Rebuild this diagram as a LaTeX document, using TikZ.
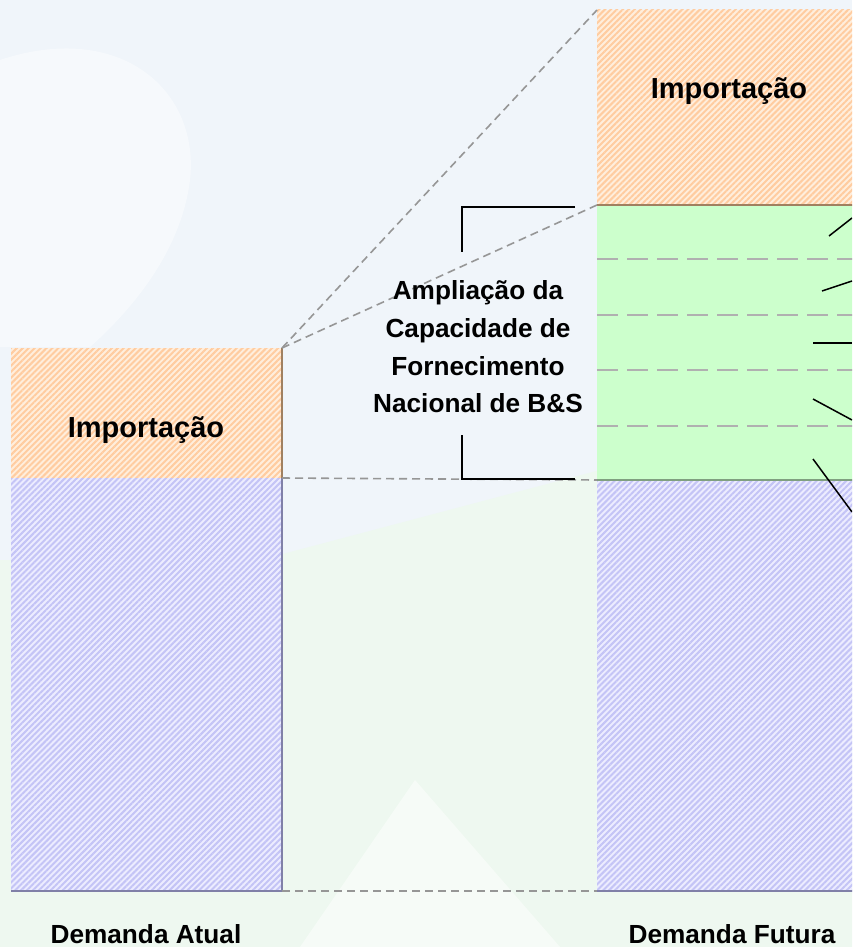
\documentclass[tikz,border=0pt]{standalone}
\usepackage{fontspec}
\setmainfont{Liberation Sans}
\usetikzlibrary{patterns.meta,positioning}

\definecolor{bgblue}{RGB}{240,245,250}
\definecolor{bggreen}{RGB}{238,248,240}
\definecolor{impfill}{RGB}{255,238,220}
\definecolor{impline}{RGB}{255,204,160}
\definecolor{impedge}{RGB}{160,128,96}
\definecolor{demfill}{RGB}{236,236,255}
\definecolor{demline}{RGB}{196,196,246}
\definecolor{demedge}{RGB}{128,128,168}
\definecolor{ampfill}{RGB}{204,255,204}
\definecolor{ampedge}{RGB}{128,160,128}
\definecolor{connline}{RGB}{150,150,150}
\definecolor{divgray}{RGB}{176,176,176}

\begin{document}
\begin{tikzpicture}[
    x=0.5pt, y=-0.5pt,
    box/.style={
        inner sep=0pt,
        outer sep=0pt,
        anchor=north west,
        minimum width=135.5pt
    },
    impbox/.style={
        box,
        preaction={fill=impfill},
        pattern={Lines[angle=45,distance=2.1pt,line width=1pt]},
        pattern color=impline
    },
    dembox/.style={
        box,
        preaction={fill=demfill},
        pattern={Lines[angle=45,distance=2.1pt,line width=1pt]},
        pattern color=demline
    },
    ampbox/.style={
        box,
        fill=ampfill
    },
    boxtext/.style={
        anchor=base,
        font=\bfseries\fontsize{14.5}{17}\selectfont
    },
    captext/.style={
        anchor=base,
        font=\bfseries\fontsize{13.1}{16}\selectfont
    },
    conn/.style={
        draw=connline,
        line width=0.8pt,
        dash pattern=on 4pt off 2.5pt
    },
    divline/.style={
        draw=divgray,
        line width=1.2pt,
        dash pattern=on 10.5pt off 4.5pt
    },
    leader/.style={draw=black, line width=0.75pt},
    bracket/.style={draw=black, line width=1pt}
]

\clip (0,0) rectangle (852,947);
\fill[bgblue] (0,0) rectangle (852,947);
% faint watermark shapes
\fill[bggreen] (0,560) -- (260,560) -- (600,470) -- (852,470) -- (852,947) -- (0,947) -- cycle;
\fill[white, opacity=0.45] (0,60) .. controls (120,20) and (200,90) .. (190,180)
    .. controls (180,260) and (120,320) .. (90,347) -- (0,347) -- cycle;
\fill[white, opacity=0.5] (300,947) -- (415,780) -- (560,947) -- cycle;

% current demand
\node[impbox, minimum height=65pt] (impA) at (11,348) {};
\node[dembox, minimum height=206.5pt] (demA) at (11,478) {};
\draw[impedge, line width=1pt] (impA.north east) -- (impA.south east);
\draw[demedge, line width=1.2pt] (demA.north east) -- (demA.south east) -- (demA.south west);

% future demand
\node[impbox, minimum height=97.5pt] (impF) at (597,10) {};
\node[ampbox, minimum height=137.5pt] (ampF) at (597,205) {};
\node[dembox, minimum height=205.5pt] (demF) at (597,480) {};
\draw[impedge, line width=1.2pt] (impF.south west) -- (impF.south east);
\draw[ampedge, line width=1.2pt] (ampF.south west) -- (ampF.south east);
\draw[demedge, line width=1.2pt] (demF.south west) -- (demF.south east);

% divisions of the new capacity
\foreach \y in {259,315,370,426}
    \draw[divline] (597,\y) -- (868,\y);

% leaders to the right
\coordinate (l1) at (852,218);
\coordinate (l2) at (852,281);
\coordinate (l3) at (852,343);
\coordinate (l4) at (852,420);
\coordinate (l5) at (852,512);
\draw[leader] (829,236) -- (l1);
\draw[leader] (822,291) -- (l2);
\draw[leader] (813,343) -- (l3);
\draw[leader] (813,399) -- (l4);
\draw[leader] (813,459) -- (l5);

% zoom connectors
\draw[conn] (impA.north east) -- (impF.north west);
\draw[conn] (impA.north east) -- (ampF.north west);
\draw[conn] (impA.south east) -- (demF.north west);
\draw[conn] (demA.south east) -- (demF.south west);

% bracket
\coordinate (brT) at (575,207);
\coordinate (brB) at (575,479);
\draw[bracket] (brT) -- (462,207) -- (462,252);
\draw[bracket] (brB) -- (462,479) -- (462,435);

% labels
\node[boxtext] (impAtext) at (146,437) {Importação};
\node[boxtext] (impFtext) at (729,98) {Importação};
\node[captext, anchor=center, align=center] (ampText) at (478,347)
    {Ampliação da\\[2.8pt]Capacidade de\\[2.8pt]Fornecimento\\[2.8pt]Nacional de B\&S};
\node[captext] (demAtext) at (146,943) {Demanda Atual};
\node[captext] (demFtext) at (732,943) {Demanda Futura};

\end{tikzpicture}
\end{document}
